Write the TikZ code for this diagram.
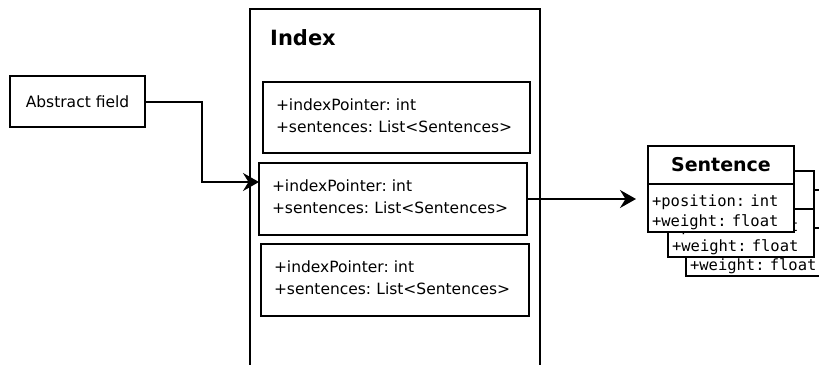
\documentclass[tikz,border=0pt]{standalone}
\usepackage{fontspec}
\setmainfont{DejaVu Sans}
\setmonofont{DejaVu Sans Mono}
\usetikzlibrary{arrows.meta}
\frenchspacing

\tikzset{
  box/.style={draw=black, line width=2pt, fill=white, rectangle,
    inner sep=0pt, outer sep=0pt},
  plain/.style={font=\fontsize{15.5}{22}\selectfont},
  field/.style={box, plain, align=left, inner xsep=13pt, inner ysep=0pt,
    minimum height=72pt},
  title/.style={font=\fontsize{21}{24}\selectfont\bfseries, inner sep=0pt},
  classhead/.style={box, minimum width=146pt, minimum height=38pt,
    font=\fontsize{19}{22}\selectfont\bfseries, anchor=north west},
  classbody/.style={box, minimum width=146pt, minimum height=48pt,
    text width=138pt, inner xsep=4pt, align=left, anchor=north west,
    font=\fontsize{15.5}{20}\selectfont\ttfamily},
  conn/.style={draw=black, line width=2pt,
    -{Stealth[length=16pt,width=18pt,inset=5.5pt]}},
}

% Attribute lines of one index entry
\newcommand{\entrytext}{+indexPointer: int\\+sentences: List<Sentences>\rule[-4pt]{0pt}{4pt}}

% One "Sentence" class: header with the name, body with its attributes
\newcommand{\sentenceclass}[3]{%
  \node[classhead] (#1h) at (#2,#3) {Sentence};
  \node[classbody] (#1b) at (#1h.south west)
    {\rule{0pt}{20pt}+position: int\\+weight: float};
}

\begin{document}
\begin{tikzpicture}[x=1pt, y=-1pt]
  \useasboundingbox (0,0) rectangle (819,364);
  \clip (0,0) rectangle (819,364);

  % Source box
  \node[box, plain, minimum width=135pt, minimum height=51pt] (abs)
    at (77.5,101.5) {Abstract field};

  % Index container and its entries
  \node[box, minimum width=290pt, minimum height=380pt, anchor=north west]
    (index) at (250,9) {};
  \node[title, anchor=west] (indextitle) at (270,38) {Index};

  \node[field, minimum width=267pt, minimum height=71pt, text width=241pt] (f1)
    at (396.5,117.5) {\entrytext};
  \node[field, minimum width=268pt, text width=242pt] (f2)
    at (393,199) {\entrytext};
  \node[field, minimum width=268pt, text width=242pt] (f3)
    at (395,280) {\entrytext};

  % Stack of Sentence objects, back to front
  \sentenceclass{sC}{686}{190}
  \sentenceclass{sB}{668}{171}
  \sentenceclass{sA}{648}{146}

  % Connectors
  \draw[conn] (abs.east) -- ++(57,0) |- ([yshift=17pt]f2.west);
  \draw[conn, shorten >=12pt] (f2.east) -- (f2.east -| sAb.west);
\end{tikzpicture}
\end{document}
